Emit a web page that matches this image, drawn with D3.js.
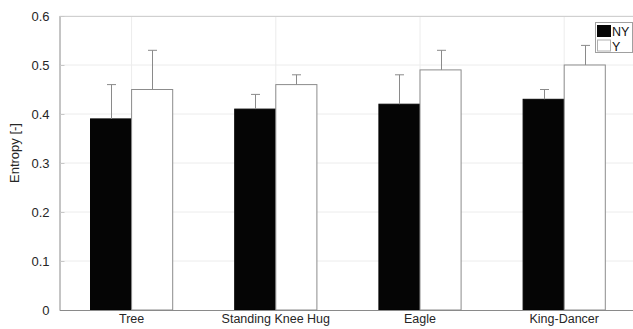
<!DOCTYPE html>
<html>
<head>
<meta charset="utf-8">
<script src="https://cdn.jsdelivr.net/npm/d3@7.9.0/dist/d3.min.js"></script>
<style>
  body { margin: 0; background: #fff; }
  svg { display: block; font-family: "Liberation Sans", Arial, sans-serif; }
</style>
</head>
<body>
<svg id="chart" width="633" height="329"></svg>
<script>
const poses = ['Tree', 'Standing Knee Hug', 'Eagle', 'King-Dancer'];
const seriesNames = ['NY', 'Y'];
const meanNY = [0.39, 0.41, 0.42, 0.43];
const meanY = [0.45, 0.46, 0.49, 0.50];
const errNY = [0.07, 0.03, 0.06, 0.02];
const errY = [0.08, 0.02, 0.04, 0.04];
const yTicks = [0, 0.1, 0.2, 0.3, 0.4, 0.5, 0.6];

const margin = { left: 59.5, top: 16, right: 636.3, bottom: 310 };
const svg = d3.select('#chart');

// categories sit at the centre of equal bands (MATLAB xlim 0.5..4.5)
const x = d3.scaleBand().domain(poses).range([margin.left, margin.right]).padding(0);
const y = d3.scaleLinear().domain([0, 0.6]).range([margin.bottom, margin.top]);
const barW = x.bandwidth() * 0.285;

const series = [
  { name: seriesNames[0], mean: meanNY, err: errNY, fill: '#050505', stroke: '#050505', off: -1 },
  { name: seriesNames[1], mean: meanY, err: errY, fill: '#ffffff', stroke: '#8c8c8c', off: 0 }
];

// grid
svg.append('g').selectAll('line')
  .data(yTicks.slice(1))
  .join('line')
  .attr('x1', margin.left).attr('x2', margin.right)
  .attr('y1', d => y(d)).attr('y2', d => y(d))
  .attr('stroke', '#ececec');

svg.append('g').selectAll('line')
  .data(poses)
  .join('line')
  .attr('x1', d => x(d) + x.bandwidth() / 2).attr('x2', d => x(d) + x.bandwidth() / 2)
  .attr('y1', margin.top).attr('y2', margin.bottom)
  .attr('stroke', '#ececec');

// box top
svg.append('line')
  .attr('x1', margin.left).attr('x2', margin.right)
  .attr('y1', margin.top + 0.5).attr('y2', margin.top + 0.5)
  .attr('stroke', '#d0d0d0');

// bars
series.forEach(s => {
  svg.append('g').selectAll('rect')
    .data(poses)
    .join('rect')
    .attr('x', (d, i) => x(d) + x.bandwidth() / 2 + s.off * barW)
    .attr('y', (d, i) => y(s.mean[i]))
    .attr('width', barW)
    .attr('height', (d, i) => y(0) - y(s.mean[i]))
    .attr('fill', s.fill)
    .attr('stroke', s.stroke)
    .attr('stroke-width', 1);
});

// error bars (upper only)
series.forEach(s => {
  const g = svg.append('g').attr('stroke', '#8a8a8a').attr('stroke-width', 1);
  poses.forEach((p, i) => {
    const cx = Math.round(x(p) + x.bandwidth() / 2 + s.off * barW + barW / 2) + 0.5;
    const top = y(s.mean[i] + s.err[i]);
    g.append('line').attr('x1', cx).attr('x2', cx).attr('y1', y(s.mean[i])).attr('y2', top);
    g.append('line').attr('x1', cx - 4.5).attr('x2', cx + 4.5).attr('y1', top).attr('y2', top);
  });
});

// axes
const yAxis = svg.append('g')
  .attr('transform', `translate(${margin.left},0)`)
  .call(d3.axisLeft(y).tickValues(yTicks).tickFormat(d3.format('')).tickSizeInner(-5).tickSizeOuter(0).tickPadding(10));
yAxis.select('.domain').attr('stroke', '#8a8a8a');
yAxis.selectAll('.tick line').attr('stroke', '#c8c8c8');
yAxis.selectAll('.tick text').attr('font-size', 13).attr('fill', '#262626');

const xAxis = svg.append('g')
  .attr('transform', `translate(0,${margin.bottom})`)
  .call(d3.axisBottom(x).tickSize(0).tickPadding(4));
xAxis.select('.domain').attr('stroke', '#8a8a8a');
xAxis.selectAll('.tick text').attr('font-size', 12.5).attr('fill', '#262626');

svg.append('text')
  .attr('transform', 'translate(19,153) rotate(-90)')
  .attr('text-anchor', 'middle')
  .attr('font-size', 13)
  .attr('fill', '#262626')
  .text('Entropy [-]');

// legend
const leg = svg.append('g').attr('transform', 'translate(595,22)');
leg.append('rect').attr('x', 0.5).attr('y', 0.5).attr('width', 37).attr('height', 30)
  .attr('fill', '#fff').attr('stroke', '#a0a0a0');
series.forEach((s, i) => {
  leg.append('rect')
    .attr('x', 2.5).attr('y', 3.5 + i * 14.5).attr('width', 13).attr('height', 11)
    .attr('fill', s.fill).attr('stroke', i === 0 ? s.stroke : '#b0b0b0');
  leg.append('text')
    .attr('x', 17).attr('y', 14 + i * 14.5)
    .attr('font-size', 12.5).attr('fill', '#111')
    .text(s.name);
});
</script>
</body>
</html>
